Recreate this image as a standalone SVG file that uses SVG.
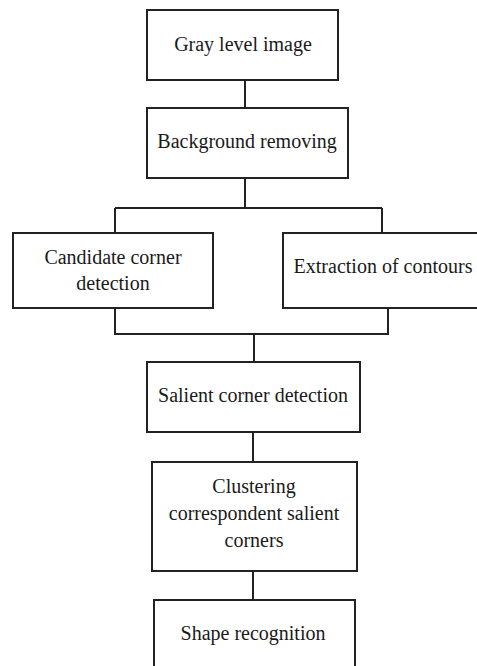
<svg xmlns="http://www.w3.org/2000/svg" width="477" height="666" viewBox="0 0 477 666">
<style>
.box{fill:#fff;stroke:#222;stroke-width:2}
.ln{fill:none;stroke:#222;stroke-width:2}
text{font-family:"Liberation Serif","Times New Roman",serif;font-size:20px;fill:#1a1a1a;text-anchor:middle}
</style>
<rect width="477" height="666" fill="#fff"/>
<g id="connectors">
<path class="ln" d="M245 80V108"/>
<path class="ln" d="M245 178V208M115 208H382M115 208V233M382 208V233"/>
<path class="ln" d="M115 308V334H388V308M254 334V362"/>
<path class="ln" d="M253 432V462"/>
<path class="ln" d="M253 571V600"/>
</g>
<g id="n1"><rect class="box" x="147" y="10" width="191" height="70"/><text x="243" y="51">Gray level image</text></g>
<g id="n2"><rect class="box" x="147" y="108" width="201" height="70"/><text x="247" y="148">Background removing</text></g>
<g id="n3"><rect class="box" x="13" y="233" width="200" height="75"/><text x="113" y="264">Candidate corner</text><text x="113" y="290">detection</text></g>
<g id="n4"><rect class="box" x="283" y="233" width="200" height="75"/><text x="383" y="273">Extraction of contours</text></g>
<g id="n5"><rect class="box" x="147" y="362" width="213" height="70"/><text x="253" y="402">Salient corner detection</text></g>
<g id="n6"><rect class="box" x="152" y="462" width="205" height="109"/><text x="254" y="493">Clustering</text><text x="254" y="520">correspondent salient</text><text x="254" y="547">corners</text></g>
<g id="n7"><rect class="box" x="154" y="600" width="201" height="70"/><text x="253" y="640">Shape recognition</text></g>
</svg>
